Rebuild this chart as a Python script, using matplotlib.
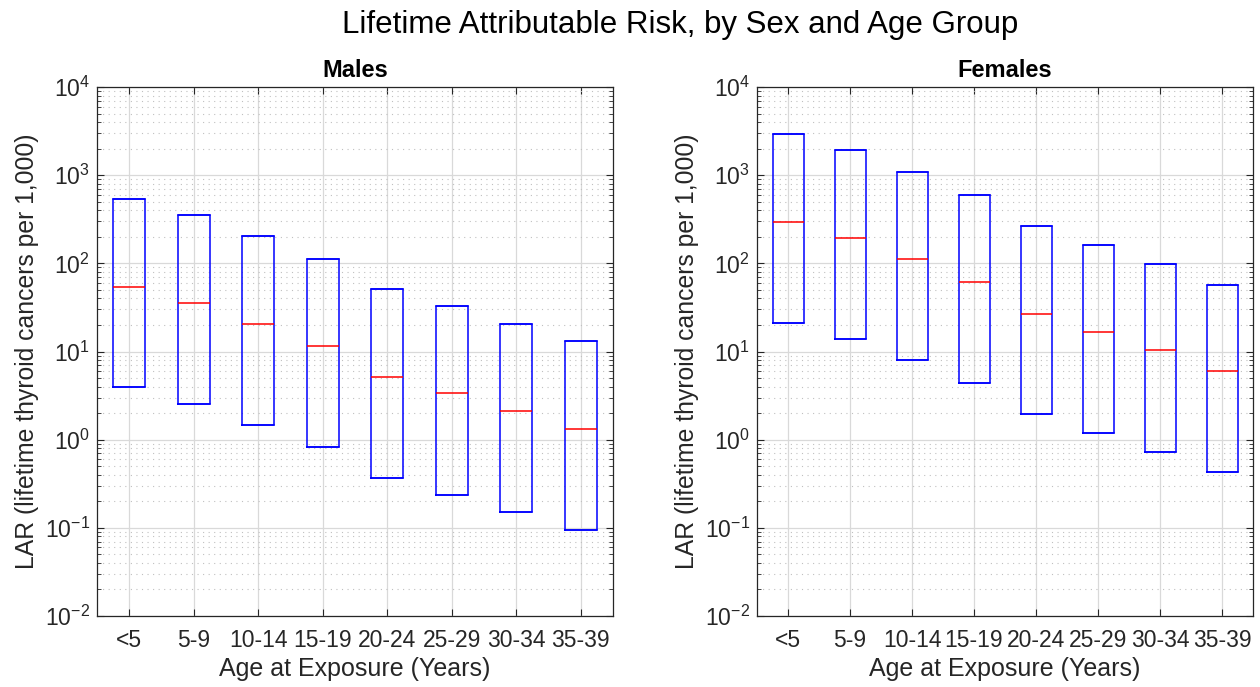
import matplotlib
matplotlib.use("Agg")
import matplotlib.pyplot as plt
from matplotlib.ticker import NullFormatter, FixedLocator

plt.rcParams['font.family'] = ['Liberation Sans', 'DejaVu Sans']
plt.rcParams['mathtext.fontset'] = 'custom'
plt.rcParams['mathtext.rm'] = 'Liberation Sans'
plt.rcParams['mathtext.it'] = 'Liberation Sans:italic'
plt.rcParams['mathtext.bf'] = 'Liberation Sans:bold'

categories = ['<5', '5-9', '10-14', '15-19', '20-24', '25-29', '30-34', '35-39']

males_low = [3.97, 2.56, 1.48, 0.82, 0.37, 0.237, 0.152, 0.094]
males_med = [53.8, 35.4, 20.3, 11.6, 5.2, 3.36, 2.1, 1.32]
males_high = [543, 351, 204, 112, 51, 32.7, 20.6, 13.3]

females_low = [20.8, 13.9, 8.0, 4.36, 1.96, 1.2, 0.72, 0.425]
females_med = [295, 194, 111, 60.8, 26.8, 16.7, 10.3, 6.03]
females_high = [2925, 1908, 1091, 598, 263, 163, 98, 57.3]

decades = [-2, -1, 0, 1, 2, 3, 4]

fig = plt.figure(figsize=(12.6, 6.87), dpi=100)
fig.patch.set_facecolor('white')

ax_pos = [[0.077, 0.1033, 0.4095, 0.770], [0.6008, 0.1033, 0.3937, 0.770]]
panels = [('Males', males_low, males_med, males_high),
          ('Females', females_low, females_med, females_high)]

major_ticks = [10.0 ** d for d in decades]
minor_ticks = [m * 10.0 ** d for d in decades[:-1] for m in range(2, 10)]

dark = '#262626'
for pos, (title, lo, med, hi) in zip(ax_pos, panels):
    ax = fig.add_axes(pos)
    stats = []
    for c, l, m, h in zip(categories, lo, med, hi):
        stats.append(dict(label=c, med=m, q1=l, q3=h, whislo=l, whishi=h, fliers=[]))
    ax.bxp(stats, positions=range(1, len(categories) + 1), widths=0.5,
           capwidths=0.5, showfliers=False,
           boxprops=dict(color='#0000ff', linewidth=1.1),
           whiskerprops=dict(color='#0000ff', linewidth=1.1),
           capprops=dict(color='#0000ff', linewidth=1.1),
           medianprops=dict(color='#ff0000', linewidth=1.1))
    ax.set_yscale('log')
    ax.set_ylim(1e-2, 1e4)
    ax.set_xlim(0.5, len(categories) + 0.5)
    ax.set_xticks(range(1, len(categories) + 1))
    ax.set_xticklabels(categories)
    ax.xaxis.set_minor_locator(FixedLocator([]))
    ax.yaxis.set_major_locator(FixedLocator(major_ticks))
    ax.set_yticklabels([r'$10^{%d}$' % d for d in decades])
    ax.yaxis.set_minor_locator(FixedLocator(minor_ticks))
    ax.yaxis.set_minor_formatter(NullFormatter())
    ax.grid(True, which='major', color='#d9d9d9', linewidth=0.9, linestyle='-')
    ax.grid(True, which='minor', axis='y', color='#c0c0c0', linewidth=0.8, linestyle=(0, (1, 4)))
    ax.set_axisbelow(True)
    ax.tick_params(which='both', direction='in', top=True, right=True,
                   colors=dark, labelcolor=dark, labelsize=16.5)
    ax.tick_params(which='major', length=5, width=0.8)
    ax.tick_params(which='minor', length=3, width=0.6)
    ax.tick_params(axis='x', pad=9)
    ax.tick_params(axis='y', pad=5)
    for sp in ax.spines.values():
        sp.set_color(dark)
        sp.set_linewidth(0.9)
    ax.set_title(title, fontsize=17, fontweight='bold', pad=7)
    ax.set_xlabel('Age at Exposure (Years)', fontsize=18, color=dark, labelpad=4)
    ax.set_ylabel('LAR (lifetime thyroid cancers per 1,000)', fontsize=17.8, color=dark, labelpad=4)

fig.suptitle('Lifetime Attributable Risk, by Sex and Age Group', fontsize=22.5,
             x=0.54, y=0.985)

fig.savefig('out.png', dpi=100, facecolor='white')
